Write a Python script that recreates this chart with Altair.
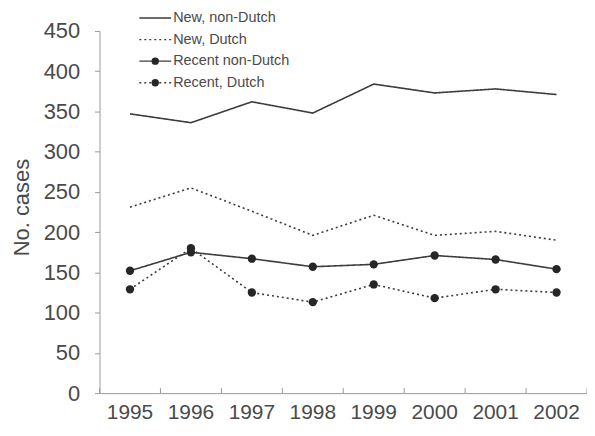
import altair as alt
import pandas as pd

years = [1995, 1996, 1997, 1998, 1999, 2000, 2001, 2002]
series_names = ["New, non-Dutch", "New, Dutch", "Recent non-Dutch", "Recent, Dutch"]
new_non_dutch = [347, 336, 362, 348, 384, 373, 378, 371]
new_dutch = [231, 255, 226, 196, 221, 196, 201, 190]
recent_non_dutch = [152, 175, 167, 157, 160, 171, 166, 154]
recent_dutch = [129, 180, 125, 113, 135, 118, 129, 125]

values = [new_non_dutch, new_dutch, recent_non_dutch, recent_dutch]
rows = []
for name, vals in zip(series_names, values):
    for yr, v in zip(years, vals):
        rows.append({"year": str(yr), "series": name, "value": v})
df = pd.DataFrame(rows)
leg_df = pd.DataFrame({"series": series_names})
year_df = pd.DataFrame({"year": [str(y) for y in years]})

FONT = "Liberation Sans"
TEXT = "#4a4a4a"
LINE = "#3c3c3c"
DOT = "#262626"
AXC = "#9a9a9a"
H = 364
W = 490

dash_scale = alt.Scale(domain=series_names, range=[[1, 0], [2, 3], [1, 0], [2, 3]])
recent_filter = alt.FieldOneOfPredicate(field="series", oneOf=series_names[2:])
x_scale = alt.Scale(type="band", paddingInner=0, paddingOuter=0)
x_axis = alt.Axis(
    orient="bottom",
    labelAngle=0,
    labelFont=FONT,
    labelFontSize=21,
    labelColor=TEXT,
    labelPadding=9,
    ticks=False,
    domainColor=AXC,
    grid=False,
)
x_bottom = alt.X("year:O", title=None, scale=x_scale, axis=x_axis)

y_scale = alt.Scale(domain=[0, 450], nice=False)
y_main = alt.Y(
    "value:Q",
    title="No. cases",
    scale=y_scale,
    axis=alt.Axis(
        values=list(range(0, 451, 50)),
        labelFont=FONT,
        labelFontSize=22,
        labelColor=TEXT,
        labelPadding=15,
        tickSize=5,
        tickColor=AXC,
        domainColor=AXC,
        grid=False,
        titleFont=FONT,
        titleFontSize=22,
        titleFontWeight="normal",
        titleColor=TEXT,
        titleX=-78,
        titleY=177,
        titleAlign="center",
        titleBaseline="middle",
    ),
)
y_plain = alt.Y("value:Q", scale=y_scale, axis=None)

lines = alt.Chart(df).mark_line(color=LINE, strokeWidth=1.6).encode(
    x=x_bottom,
    y=y_main,
    detail="series:N",
    strokeDash=alt.StrokeDash("series:N", scale=dash_scale, legend=None),
)

points = (
    alt.Chart(df)
    .transform_filter(recent_filter)
    .mark_circle(color=DOT, opacity=1, size=70)
    .encode(x=x_bottom, y=y_plain)
)

# inward x-axis ticks at the category band edges
ticks_start = alt.Chart(year_df).mark_rule(color=AXC, strokeWidth=1).encode(
    x=alt.X("year:O", title=None, scale=x_scale, axis=x_axis, bandPosition=0),
    y=alt.value(H - 5),
    y2=alt.value(H),
)
ticks_end = (
    alt.Chart(year_df)
    .transform_filter(alt.FieldEqualPredicate(field="year", equal=str(years[-1])))
    .mark_rule(color=AXC, strokeWidth=1)
    .encode(
        x=alt.X("year:O", title=None, scale=x_scale, axis=x_axis, bandPosition=1),
        y=alt.value(H - 5),
        y2=alt.value(H),
    )
)

# legend (top-left, inside the plot)
leg_y = alt.Y(
    "series:N",
    scale=alt.Scale(type="point", domain=series_names, range=[-13, 52], padding=0),
    axis=None,
)
leg_lines = alt.Chart(leg_df).mark_rule(color=LINE, strokeWidth=1.4).encode(
    y=leg_y,
    x=alt.value(40),
    x2=alt.value(72),
    strokeDash=alt.StrokeDash("series:N", scale=dash_scale, legend=None),
)
leg_dots = (
    alt.Chart(leg_df)
    .transform_filter(recent_filter)
    .mark_circle(color=DOT, opacity=1, size=55)
    .encode(y=leg_y, x=alt.value(56))
)
leg_text = alt.Chart(leg_df).mark_text(
    align="left", baseline="middle", font=FONT, fontSize=14.5, color=TEXT
).encode(y=leg_y, x=alt.value(74), text="series:N")

chart = (
    alt.layer(lines, points, ticks_start, ticks_end, leg_lines, leg_dots, leg_text)
    .resolve_scale(y="independent")
    .properties(
        width=W,
        height=H,
        autosize="none",
        padding={"left": 92, "top": 22, "right": 0, "bottom": 36},
        background="#ffffff",
    )
    .configure_view(stroke=None)
)

chart.save("out.html", embed_options={"renderer": "svg", "actions": False})
